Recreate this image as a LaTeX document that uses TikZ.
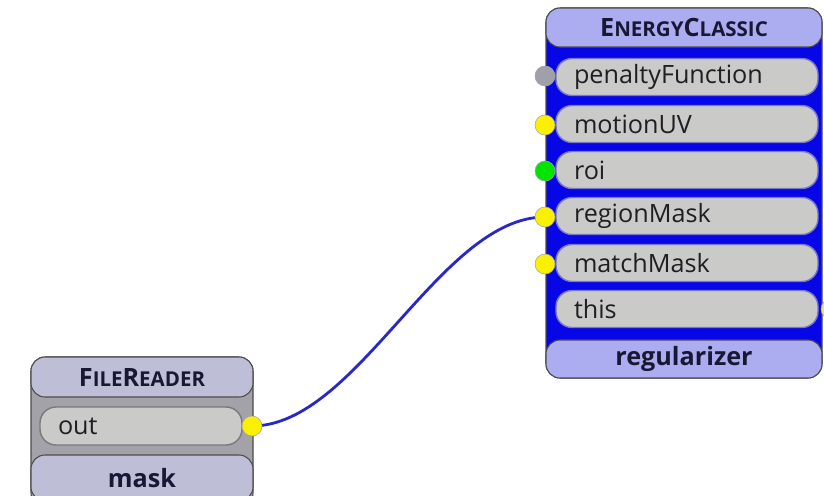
\documentclass[tikz,border=0pt]{standalone}
\usepackage{fontspec}
\setmainfont{Open Sans}
% small caps faked with two sizes of bold capitals
\newcommand\hdrcap[2]{{\fontsize{21.5}{24}\selectfont #1}{\fontsize{17.5}{20}\selectfont #2}}
\pgfdeclarelayer{bg}
\pgfdeclarelayer{wires}
\pgfsetlayers{bg,wires,main}
\definecolor{hdrblue}{RGB}{172,172,240}
\definecolor{hdrgray}{RGB}{190,190,214}
\definecolor{bodyblue}{RGB}{6,6,230}
\definecolor{bodygray}{RGB}{162,162,168}
\definecolor{slotgray}{RGB}{202,202,200}
\definecolor{slotedge}{RGB}{120,120,200}
\definecolor{slotedgegray}{RGB}{120,120,125}
\definecolor{portgray}{RGB}{160,160,170}
\definecolor{portyellow}{RGB}{250,240,0}
\definecolor{portgreen}{RGB}{0,228,0}
\definecolor{wireblue}{RGB}{40,40,200}
\definecolor{inktext}{RGB}{30,30,36}
\definecolor{inkhdr}{RGB}{24,24,52}
\begin{document}
\begin{tikzpicture}[x=0.03cm,y=-0.03cm,
  body/.style={draw=black!70,line width=0.9pt,rounded corners=14*0.03cm,inner sep=0pt},
  hdr/.style={body,text=inkhdr,font=\bfseries\fontsize{21.5}{24}\selectfont},
  slot/.style={draw=slotedge,line width=1.2pt,fill=slotgray,rounded corners=16*0.03cm,
    inner ysep=0pt,inner xsep=18*0.03cm,align=left,text=inktext,
    font=\fontsize{21.5}{24}\selectfont},
  port/.style={circle,draw=black!35,line width=0.5pt,minimum size=20*0.03cm,inner sep=0pt},
  wire/.style={draw=wireblue,line width=2.4pt}]
\begin{pgfonlayer}{bg}
  \fill[white] (0,0) rectangle (824,495);
\end{pgfonlayer}
\clip (0,0) rectangle (824,495);

% ---- EnergyClassic node ----
\node[body,fill=bodyblue,minimum width=276*0.03cm,minimum height=370*0.03cm] (ecBody) at (684,193) {};
\node[hdr,fill=hdrblue,minimum width=276*0.03cm,minimum height=39*0.03cm] (ecHead) at (684,27.5)
  {\hdrcap{E}{NERGY}\hdrcap{C}{LASSIC}};
\node[hdr,fill=hdrblue,minimum width=276*0.03cm,minimum height=38*0.03cm] (ecFoot) at (684,359) {regularizer};

\foreach \nm/\txt/\yy in {sPen/penaltyFunction/77, sMot/motionUV/124, sRoi/roi/170,
    sReg/regionMask/216, sMat/matchMask/263, sThis/this/309}
  \node[slot,text width=226*0.03cm,minimum height=37*0.03cm] (\nm) at (687,\yy) {\txt};

\node[port,fill=portgray]   (pPen)  at (545,76)  {};
\node[port,fill=portyellow] (pMot)  at (545,125) {};
\node[port,fill=portgreen]  (pRoi)  at (545,171) {};
\node[port,fill=portyellow] (pReg)  at (545,217) {};
\node[port,fill=portyellow] (pMat)  at (545,264) {};
\node[port,fill=portyellow] (pThis) at (831,309) {};

% ---- FileReader node ----
\node[body,fill=bodygray,minimum width=222*0.03cm,minimum height=150*0.03cm] (frBody) at (142,432) {};
\node[hdr,fill=hdrgray,minimum width=222*0.03cm,minimum height=40*0.03cm] (frHead) at (142,377)
  {\hdrcap{F}{ILE}\hdrcap{R}{EADER}};
\node[hdr,fill=hdrgray,minimum width=222*0.03cm,minimum height=46*0.03cm] (frFoot) at (142,478) {mask};
\node[slot,draw=slotedgegray,text width=166*0.03cm,minimum height=38*0.03cm] (sOut) at (141,426) {out};
\node[port,fill=portyellow] (pOut) at (252,426) {};

% ---- connection ----
\begin{pgfonlayer}{wires}
  \draw[wire] (pOut.center) .. controls +(105,0) and +(-105,0) .. (pReg.center);
\end{pgfonlayer}
\end{tikzpicture}
\end{document}
